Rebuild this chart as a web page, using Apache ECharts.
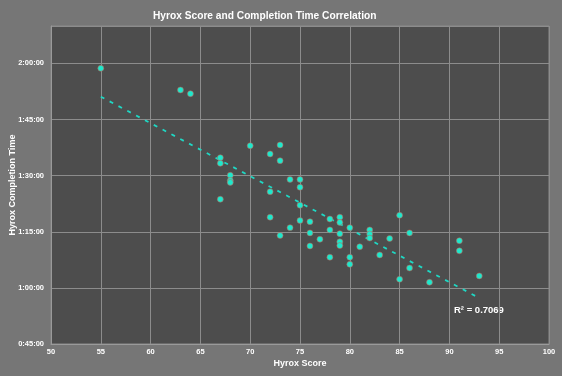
<!DOCTYPE html>
<html>
<head>
<meta charset="utf-8">
<script src="https://cdn.jsdelivr.net/npm/echarts@6/dist/echarts.min.js"></script>
<style>
  html, body { margin: 0; padding: 0; background: #767676; }
  #chart { width: 562px; height: 376px; }
</style>
</head>
<body>
<div id="chart"></div>
<script>
// Hyrox score vs completion time (minutes)
const scores = [55, 63, 64, 67, 67, 67, 68, 68, 68, 70, 72, 72, 72, 73, 73, 73,
  74, 74, 75, 75, 75, 75, 76, 76, 76, 77, 78, 78, 78, 79, 79, 79, 79, 79,
  80, 80, 80, 81, 82, 82, 82, 83, 84, 85, 85, 86, 86, 88, 91, 91, 93];
const minutes = [118.7, 112.9, 111.9, 94.8, 93.3, 83.7, 90.1, 88.7, 88.2, 98.0,
  95.8, 85.7, 78.9, 98.2, 94.0, 74.0, 89.0, 76.1, 89.0, 86.9, 82.1, 78.0,
  77.7, 74.7, 71.2, 73.0, 78.4, 75.5, 68.2, 78.9, 77.5, 74.5, 72.3, 71.3,
  76.1, 68.2, 66.3, 71.0, 75.5, 74.4, 73.3, 68.8, 73.2, 79.4, 62.3, 74.7,
  65.3, 61.5, 72.6, 69.9, 63.2];
const rSquared = 'R² = 0.7069';

(function () {
  let myChart = echarts.init(document.getElementById('chart'));

  let points = scores.map((s, i) => [s, minutes[i]]);

  // least squares trend line
  let n = scores.length;
  let mx = scores.reduce((a, b) => a + b, 0) / n;
  let my = minutes.reduce((a, b) => a + b, 0) / n;
  let sxy = 0, sxx = 0;
  for (let i = 0; i < n; i++) {
    sxy += (scores[i] - mx) * (minutes[i] - my);
    sxx += (scores[i] - mx) * (scores[i] - mx);
  }
  let slope = sxy / sxx;
  let icpt = my - slope * mx;
  let x0 = Math.min(...scores), x1 = Math.max(...scores);
  let trend = [[x0, icpt + slope * x0], [x1, icpt + slope * x1]];

  function fmtTime(v) {
    let h = Math.floor(v / 60);
    let m = Math.round(v % 60);
    return h + ':' + String(m).padStart(2, '0') + ':00';
  }

  let option = {
    backgroundColor: '#767676',
    title: {
      text: 'Hyrox Score and Completion Time Correlation',
      left: 148,
      top: 6,
      textStyle: { color: '#ffffff', fontSize: 10.2, fontWeight: 'bold', fontFamily: 'Liberation Sans' }
    },
    grid: {
      left: 51, right: 13, top: 26, bottom: 32,
      outerBoundsMode: 'none',
      containLabel: false,
      show: true,
      backgroundColor: '#4d4d4d',
      borderColor: '#8a8a8a',
      borderWidth: 1
    },
    xAxis: {
      type: 'value',
      min: 50, max: 100, interval: 5,
      name: 'Hyrox Score',
      nameLocation: 'middle',
      nameGap: 15,
      nameMoveOverlap: false,
      nameTextStyle: { color: '#ffffff', fontSize: 9, fontWeight: 'bold', fontFamily: 'Liberation Sans' },
      axisLine: { lineStyle: { color: '#9a9a9a' } },
      axisTick: { show: false },
      axisLabel: { color: '#ffffff', fontSize: 7.5, fontWeight: 'bold', margin: 4, fontFamily: 'Liberation Sans' },
      splitLine: { lineStyle: { color: '#8c8c8c', width: 1 } }
    },
    yAxis: {
      type: 'value',
      min: 45, max: 130, interval: 15,
      name: 'Hyrox Completion Time',
      nameLocation: 'middle',
      nameGap: 34,
      nameMoveOverlap: false,
      nameTextStyle: { color: '#ffffff', fontSize: 9, fontWeight: 'bold', fontFamily: 'Liberation Sans' },
      axisLine: { show: true, lineStyle: { color: '#9a9a9a' } },
      axisTick: { show: false },
      axisLabel: {
        color: '#ffffff', fontSize: 7.5, fontWeight: 'bold', margin: 7, fontFamily: 'Liberation Sans',
        showMaxLabel: false,
        formatter: fmtTime
      },
      splitLine: { lineStyle: { color: '#8c8c8c', width: 1 } }
    },
    series: [
      {
        type: 'line',
        data: trend,
        symbol: 'none',
        silent: true,
        lineStyle: { color: '#1fd8c4', width: 1.8, type: [4, 6] },
        z: 2
      },
      {
        type: 'scatter',
        data: points,
        symbolSize: 6,
        itemStyle: { color: '#1ee8cc', borderColor: '#c85a50', borderWidth: 0.5, opacity: 1 },
        z: 3
      }
    ],
    graphic: [
      {
        type: 'text',
        left: 454,
        top: 305,
        style: { text: rSquared, fill: '#ffffff', fontSize: 9.5, fontWeight: 'bold', fontFamily: 'Liberation Sans' }
      }
    ]
  };

  myChart.setOption(option);
})();
</script>
</body>
</html>
